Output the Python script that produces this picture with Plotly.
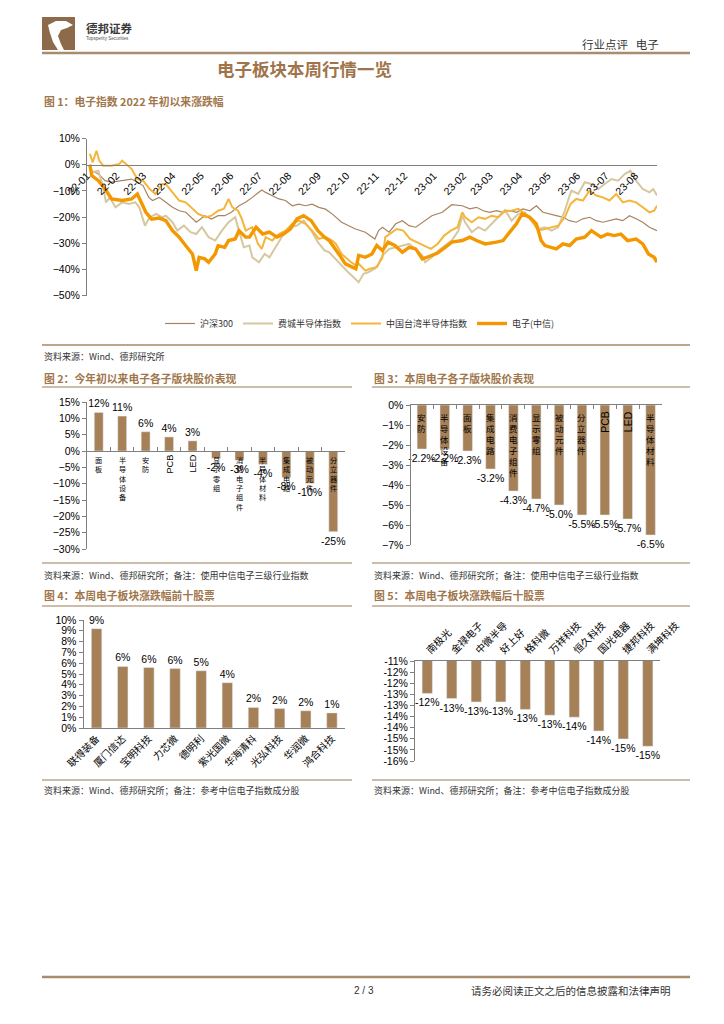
import plotly.graph_objects as go

W, H = 724, 1024
def fx(x): return x / W
def fy(y): return 1 - y / H

CJK = "Noto Sans CJK SC"
LAT = "Arial, Liberation Sans, sans-serif"
BROWN_T = "#a0764c"
BAR = "#a68158"
AX = "#808080"

# ---------------- Figure 1 data (% change since start of 2022) ----------------
series_names = ["沪深300", "费城半导体指数", "中国台湾半导体指数", "电子(中信)"]

hs300_dates = ["2022-01-04","2022-01-06","2022-01-13","2022-01-20","2022-01-27","2022-02-07","2022-02-17","2022-03-01","2022-03-07","2022-03-11","2022-03-18","2022-03-25","2022-04-01","2022-04-08","2022-04-15","2022-04-26","2022-05-05","2022-05-12","2022-05-19","2022-05-26","2022-06-02","2022-06-10","2022-06-17","2022-06-24","2022-07-04","2022-07-08","2022-07-15","2022-07-22","2022-07-29","2022-08-05","2022-08-12","2022-08-19","2022-08-26","2022-09-02","2022-09-09","2022-09-16","2022-09-26","2022-10-10","2022-10-21","2022-10-31","2022-11-04","2022-11-08","2022-11-15","2022-11-22","2022-11-29","2022-12-06","2022-12-13","2022-12-20","2022-12-30","2023-01-10","2023-01-17","2023-01-20","2023-01-31","2023-02-08","2023-02-15","2023-02-22","2023-03-01","2023-03-08","2023-03-15","2023-03-22","2023-03-29","2023-04-05","2023-04-12","2023-04-19","2023-04-26","2023-05-04","2023-05-10","2023-05-17","2023-05-24","2023-05-31","2023-06-07","2023-06-14","2023-06-21","2023-06-28","2023-07-05","2023-07-12","2023-07-19","2023-07-26","2023-08-02","2023-08-09","2023-08-16","2023-08-24"]
hs300_vals = [0,-2.3,-3.6,-6.1,-6.7,-6.1,-5.5,-8.0,-12.5,-13.7,-12.5,-14.4,-16.3,-17.6,-18.2,-22.0,-19.5,-20.8,-19.5,-19.5,-18.2,-15.7,-14.4,-12.5,-9.7,-10.6,-11.8,-13.1,-13.7,-15.7,-15.1,-15.7,-15.1,-16.3,-17.0,-18.8,-22.0,-24.5,-25.8,-28.4,-25.2,-23.9,-25.8,-22.6,-21.4,-23.3,-23.9,-22.0,-19.5,-18.2,-16.3,-15.3,-15.7,-16.9,-16.3,-17.6,-18.2,-17.6,-18.2,-17.6,-18.2,-16.9,-17.6,-15.7,-18.2,-18.8,-19.5,-20.1,-21.4,-22.0,-20.7,-20.1,-21.4,-22.0,-21.4,-20.7,-21.4,-19.5,-20.7,-22.0,-23.9,-25.2]

sox_dates = ["2022-01-04","2022-01-05","2022-01-07","2022-01-13","2022-01-18","2022-01-21","2022-01-25","2022-01-31","2022-02-07","2022-02-14","2022-02-21","2022-02-25","2022-03-03","2022-03-08","2022-03-15","2022-03-21","2022-03-25","2022-04-01","2022-04-06","2022-04-13","2022-04-20","2022-04-26","2022-05-02","2022-05-09","2022-05-16","2022-05-23","2022-05-30","2022-06-06","2022-06-10","2022-06-15","2022-06-21","2022-06-24","2022-07-01","2022-07-07","2022-07-12","2022-07-20","2022-07-27","2022-08-03","2022-08-10","2022-08-17","2022-08-25","2022-09-01","2022-09-08","2022-09-13","2022-09-19","2022-09-26","2022-10-03","2022-10-10","2022-10-14","2022-10-19","2022-10-24","2022-10-31","2022-11-04","2022-11-08","2022-11-15","2022-11-22","2022-11-29","2022-12-06","2022-12-13","2022-12-20","2022-12-23","2022-12-30","2023-01-06","2023-01-13","2023-01-20","2023-01-27","2023-01-31","2023-02-03","2023-02-10","2023-02-17","2023-02-24","2023-03-03","2023-03-10","2023-03-17","2023-03-24","2023-03-31","2023-04-07","2023-04-14","2023-04-21","2023-04-28","2023-05-05","2023-05-12","2023-05-19","2023-05-24","2023-05-26","2023-06-02","2023-06-09","2023-06-16","2023-06-23","2023-06-30","2023-07-07","2023-07-14","2023-07-21","2023-07-27","2023-08-02","2023-08-09","2023-08-16","2023-08-20","2023-08-24"]
sox_vals = [0,-1.7,-2.9,-2.3,-8.7,-14.4,-12.5,-16.3,-14.4,-15.0,-14.4,-16.3,-23.3,-20.1,-18.8,-20.1,-19.5,-22.0,-25.2,-23.3,-25.8,-26.5,-23.9,-27.7,-29.0,-25.2,-22.0,-20.1,-25.2,-31.6,-30.9,-35.4,-37.3,-34.1,-35.4,-30.9,-26.5,-23.9,-23.3,-21.4,-25.2,-29.6,-32.8,-33.5,-36.0,-38.5,-41.1,-43.6,-44.9,-41.7,-41.1,-39.8,-37.9,-34.7,-32.2,-31.6,-30.9,-30.3,-32.2,-34.7,-37.3,-35.4,-32.8,-30.9,-29.0,-25.2,-19.5,-22.0,-25.8,-23.9,-25.2,-22.6,-20.1,-17.4,-21.4,-18.8,-18.2,-21.4,-24.6,-23.9,-25.2,-23.9,-17.6,-11.8,-9.9,-11.2,-6.7,-7.4,-9.3,-7.4,-5.5,-6.1,-3.6,-2.3,-6.1,-9.3,-10.6,-9.3,-11.8]

tw_dates = ["2022-01-04","2022-01-07","2022-01-11","2022-01-14","2022-01-18","2022-01-27","2022-02-04","2022-02-07","2022-02-11","2022-02-17","2022-02-23","2022-03-01","2022-03-08","2022-03-14","2022-03-21","2022-03-25","2022-04-01","2022-04-08","2022-04-15","2022-04-22","2022-04-28","2022-05-06","2022-05-12","2022-05-19","2022-05-25","2022-05-30","2022-06-03","2022-06-09","2022-06-13","2022-06-17","2022-06-24","2022-06-30","2022-07-04","2022-07-08","2022-07-15","2022-07-22","2022-07-29","2022-08-05","2022-08-12","2022-08-19","2022-08-26","2022-09-02","2022-09-09","2022-09-16","2022-09-20","2022-09-26","2022-10-06","2022-10-11","2022-10-14","2022-10-21","2022-10-26","2022-11-02","2022-11-08","2022-11-11","2022-11-16","2022-11-23","2022-11-30","2022-12-07","2022-12-14","2022-12-21","2022-12-29","2023-01-05","2023-01-12","2023-01-19","2023-01-26","2023-01-31","2023-02-03","2023-02-10","2023-02-17","2023-02-24","2023-03-03","2023-03-10","2023-03-17","2023-03-24","2023-03-31","2023-04-07","2023-04-14","2023-04-21","2023-04-28","2023-05-05","2023-05-12","2023-05-19","2023-05-25","2023-05-31","2023-06-07","2023-06-14","2023-06-21","2023-06-28","2023-07-05","2023-07-12","2023-07-19","2023-07-26","2023-08-02","2023-08-09","2023-08-16","2023-08-21","2023-08-24"]
tw_vals = [4.1,0.9,5.3,1.5,-0.4,-0.4,0.3,1.5,0.3,-1.7,-5.5,-6.1,-9.3,-11.2,-7.4,-7.4,-10.6,-13.7,-14.4,-16.9,-18.8,-20.1,-19.5,-17.6,-16.9,-13.1,-16.3,-17.6,-20.7,-25.2,-23.9,-30.3,-32.2,-27.7,-29.0,-26.5,-25.2,-22.6,-21.4,-22.6,-25.2,-28.4,-27.7,-29.0,-30.3,-34.1,-37.3,-38.5,-37.9,-40.5,-39.8,-39.2,-35.4,-27.7,-26.5,-24.6,-25.2,-28.4,-29.6,-30.9,-32.2,-30.3,-27.1,-25.2,-23.9,-18.2,-20.1,-22.0,-20.1,-20.7,-19.5,-20.1,-17.6,-17.6,-16.9,-18.8,-21.4,-25.2,-24.6,-23.9,-23.3,-20.1,-15.0,-13.1,-13.7,-9.9,-11.8,-12.5,-13.7,-11.2,-14.4,-13.7,-14.4,-16.3,-18.2,-17.6,-15.7]

elec_dates = ["2022-01-04","2022-01-06","2022-01-13","2022-01-20","2022-01-27","2022-02-07","2022-02-17","2022-02-23","2022-03-04","2022-03-10","2022-03-18","2022-03-25","2022-04-01","2022-04-08","2022-04-15","2022-04-22","2022-04-26","2022-04-29","2022-05-05","2022-05-09","2022-05-16","2022-05-19","2022-05-26","2022-05-30","2022-06-06","2022-06-10","2022-06-17","2022-06-21","2022-06-28","2022-07-05","2022-07-12","2022-07-20","2022-07-27","2022-08-03","2022-08-10","2022-08-17","2022-08-25","2022-09-01","2022-09-08","2022-09-13","2022-09-23","2022-09-30","2022-10-11","2022-10-14","2022-10-21","2022-10-28","2022-11-02","2022-11-08","2022-11-14","2022-11-21","2022-11-29","2022-12-06","2022-12-13","2022-12-20","2022-12-27","2023-01-05","2023-01-13","2023-01-20","2023-01-31","2023-02-08","2023-02-15","2023-02-24","2023-03-08","2023-03-15","2023-03-22","2023-03-29","2023-04-04","2023-04-12","2023-04-19","2023-04-24","2023-04-28","2023-05-10","2023-05-17","2023-05-24","2023-05-31","2023-06-09","2023-06-16","2023-06-26","2023-07-03","2023-07-10","2023-07-17","2023-07-24","2023-08-02","2023-08-09","2023-08-15","2023-08-21","2023-08-24"]
elec_vals = [0,-4.2,-6.1,-9.3,-13.1,-13.7,-13.1,-11.2,-18.2,-20.8,-20.4,-21.4,-25.2,-27.7,-31.0,-34.1,-40.5,-35.4,-36.0,-37.3,-34.1,-31.0,-31.6,-29.0,-28.4,-25.2,-27.7,-27.7,-23.9,-26.5,-25.8,-27.7,-26.5,-24.6,-20.7,-19.5,-21.4,-25.2,-27.7,-29.0,-34.1,-37.9,-39.8,-34.7,-35.4,-34.1,-30.9,-32.8,-29.6,-30.9,-33.5,-31.6,-32.2,-36.0,-35.1,-33.8,-31.6,-29.6,-29.0,-27.7,-29.0,-30.3,-29.6,-29.0,-25.8,-22.6,-18.8,-20.1,-22.6,-29.0,-30.9,-32.2,-30.3,-30.9,-28.4,-27.7,-25.2,-27.7,-26.5,-27.1,-26.5,-29.0,-28.4,-30.3,-34.1,-35.4,-37.3]

line_colors = ["#a7845f", "#d7c7a0", "#f5b53a", "#f39800"]
line_widths = [1.2, 2.0, 2.0, 3.4]

# ---------------- Figure 2: YTD sub-sector ----------------
ytd_names = ["面板","半导体设备","安防","PCB","LED","显示零组","消费电子组件","半导体材料","集成电路","被动元件","分立器件"]
ytd_vals = [11.8, 10.7, 5.9, 4.3, 3.1, -2.2, -2.8, -4.1, -8.1, -9.9, -24.7]

# ---------------- Figure 3: weekly sub-sector ----------------
wk_names = ["安防","半导体设备","面板","集成电路","消费电子组件","显示零组","被动元件","分立器件","PCB","LED","半导体材料"]
wk_vals = [-2.2, -2.2, -2.3, -3.2, -4.3, -4.7, -5.0, -5.5, -5.5, -5.7, -6.5]

# ---------------- Figure 4: top 10 ----------------
top_names = ["联得装备","厦门信达","宝明科技","力芯微","德明利","紫光国微","华海清科","光弘科技","华润微","鸿合科技"]
top_vals = [9.2, 5.7, 5.6, 5.5, 5.3, 4.2, 1.9, 1.8, 1.6, 1.4]

# ---------------- Figure 5: bottom 10 ----------------
bot_names = ["南极光","金禄电子","中微半导","好上好","格科微","万祥科技","恒久科技","国光电器","捷邦科技","满坤科技"]
bot_vals = [-12.46, -12.69, -12.84, -12.84, -13.18, -13.44, -13.53, -14.15, -14.51, -14.84]
bot_tickvals = [-11, -11.5, -12, -12.5, -13, -13.5, -14, -14.5, -15, -15.5]
bot_ticktext = ["-11%","-12%","-12%","-13%","-13%","-14%","-14%","-15%","-15%","-16%"]

fig = go.Figure()

for nm, d, v, c, w in zip(series_names, [hs300_dates, sox_dates, tw_dates, elec_dates],
                          [hs300_vals, sox_vals, tw_vals, elec_vals], line_colors, line_widths):
    fig.add_trace(go.Scatter(x=d, y=v, name=nm, mode="lines", line=dict(color=c, width=w),
                             xaxis="x", yaxis="y"))

bar_text_font = dict(family=LAT, size=10.5, color="#000")
fig.add_trace(go.Bar(x=ytd_names, y=ytd_vals, xaxis="x2", yaxis="y2", marker_color=BAR, width=0.38,
                     texttemplate="%{y:.0f}%", textposition="outside", cliponaxis=False,
                     constraintext="none", textfont=bar_text_font, showlegend=False))
fig.add_trace(go.Bar(x=wk_names, y=wk_vals, xaxis="x3", yaxis="y3", marker_color=BAR, width=0.42,
                     texttemplate="%{y:.1f}%", textposition="outside", cliponaxis=False,
                     constraintext="none", textfont=bar_text_font, showlegend=False))
fig.add_trace(go.Bar(x=top_names, y=top_vals, xaxis="x4", yaxis="y4", marker_color=BAR, width=0.4,
                     texttemplate="%{y:.0f}%", textposition="outside", cliponaxis=False,
                     constraintext="none", textfont=bar_text_font, showlegend=False))
fig.add_trace(go.Bar(x=bot_names, y=bot_vals, xaxis="x5", yaxis="y5", marker_color=BAR, width=0.42,
                     texttemplate="%{y:.0f}%", textposition="outside", cliponaxis=False,
                     constraintext="none", textfont=bar_text_font, showlegend=False))

common = dict(showgrid=False, zeroline=False, showline=True, linecolor=AX, linewidth=1,
              tickfont=dict(family=LAT, size=10.5, color="#000"))

# domains
y1 = [fy(295.5), fy(138.5)]
pos1 = y1[0] + (50 / 60) * (y1[1] - y1[0])
y2 = [fy(549), fy(402)]
pos2 = y2[0] + (30 / 45) * (y2[1] - y2[0])

fig.update_layout(
    width=W, height=H, margin=dict(l=0, r=0, t=0, b=0, pad=0, autoexpand=False),
    paper_bgcolor="white", plot_bgcolor="rgba(0,0,0,0)",
    font=dict(family=CJK, color="#000"),
    xaxis=dict(domain=[fx(87), fx(657)], anchor="free", position=pos1, type="date",
               range=["2022-01-01", "2023-08-24"], dtick="M1", tick0="2022-01-01",
               tickformat="%y-%m", tickangle=-45, ticks="", **common),
    yaxis=dict(domain=y1, anchor="x", range=[-50, 10], dtick=10, ticksuffix="%",
               ticks="outside", ticklen=4, tickcolor=AX, **common),
    xaxis2=dict(domain=[fx(87), fx(345)], anchor="free", position=pos2, type="category",
                showticklabels=False, ticks="inside", tickson="boundaries", ticklen=4,
                tickcolor=AX, **common),
    yaxis2=dict(domain=y2, anchor="x2", range=[-30, 15], dtick=5, ticksuffix="%",
                ticks="outside", ticklen=4, tickcolor=AX, **common),
    xaxis3=dict(domain=[fx(410.5), fx(662)], anchor="y3", side="top", type="category",
                showticklabels=False, ticks="inside", tickson="boundaries", ticklen=4,
                tickcolor=AX, **common),
    yaxis3=dict(domain=[fy(545), fy(405)], anchor="x3", range=[-7, 0], dtick=1,
                ticksuffix="%", ticks="outside", ticklen=4, tickcolor=AX, **common),
    xaxis4=dict(domain=[fx(83.5), fx(345)], anchor="y4", type="category", tickangle=-45,
                ticks="", showgrid=False, zeroline=False, showline=True, linecolor=AX,
                tickfont=dict(family=CJK, size=10, color="#000")),
    yaxis4=dict(domain=[fy(728), fy(620)], anchor="x4", range=[0, 10], dtick=1,
                ticksuffix="%", ticks="outside", ticklen=4, tickcolor=AX, **common),
    xaxis5=dict(domain=[fx(415), fx(660)], anchor="y5", side="top", type="category",
                tickangle=-45, ticks="", showgrid=False, zeroline=False, showline=True,
                linecolor=AX, tickfont=dict(family=CJK, size=10, color="#000")),
    yaxis5=dict(domain=[fy(761), fy(661)], anchor="x5", range=[-15.5, -11],
                tickvals=bot_tickvals, ticktext=bot_ticktext, ticks="outside", ticklen=4,
                tickcolor=AX, **common),
    legend=dict(orientation="h", x=fx(360), xanchor="center", y=fy(309), yanchor="top",
                font=dict(family=CJK, size=9, color="#333"), bgcolor="rgba(0,0,0,0)",
                itemwidth=30, tracegroupgap=0),
    showlegend=True,
)

ann = []
def txt(x, y, s, size, color="#000", anchor="left", bold=False, family=CJK):
    ann.append(dict(x=fx(x), y=fy(y), xref="paper", yref="paper", showarrow=False,
                    text=("<b>%s</b>" % s) if bold else s, xanchor=anchor, yanchor="middle",
                    font=dict(family=family, size=size, color=color)))

# header
txt(84, 28, "德邦证券", 11.5, "#3a3a3a", bold=True)
txt(84, 38.5, "Topsperity Securities", 4.6, "#555", family=LAT)
txt(661, 44, "行业点评   电子", 11.5, "#333", anchor="right")
txt(304, 68, "电子板块本周行情一览", 17.5, "#a0744a", anchor="center", bold=True)
txt(42, 101, "图 1：电子指数 2022 年初以来涨跌幅", 10.8, BROWN_T, bold=True)
txt(42, 356, "资料来源：Wind、德邦研究所", 9, "#333")
txt(42, 378, "图 2：今年初以来电子各子版块股价表现", 10.8, BROWN_T, bold=True)
txt(372, 378, "图 3：本周电子各子版块股价表现", 10.8, BROWN_T, bold=True)
txt(42, 575, "资料来源：Wind、德邦研究所；备注：使用中信电子三级行业指数", 9, "#333")
txt(372, 575, "资料来源：Wind、德邦研究所；备注：使用中信电子三级行业指数", 9, "#333")
txt(42, 595, "图 4：本周电子板块涨跌幅前十股票", 10.8, BROWN_T, bold=True)
txt(372, 595, "图 5：本周电子板块涨跌幅后十股票", 10.8, BROWN_T, bold=True)
txt(42, 790, "资料来源：Wind、德邦研究所；备注：参考中信电子指数成分股", 9, "#333")
txt(372, 790, "资料来源：Wind、德邦研究所；备注：参考中信电子指数成分股", 9, "#333")
txt(364, 990, "2 / 3", 10, "#333", anchor="center", family=LAT)
txt(673, 990, "请务必阅读正文之后的信息披露和法律声明", 10.5, "#333", anchor="right")

# vertical category labels for figs 2 and 3 (one stacked text per category)
def vlabels(names, xr, yr, size, offset):
    for nm in names:
        if nm.isascii():
            ann.append(dict(x=nm, y=0, xref=xr, yref=yr, text=nm, textangle=-90, showarrow=False,
                            yanchor="top", yshift=-offset, xanchor="center", borderpad=0,
                            font=dict(family=LAT, size=size + 2, color="#000")))
        else:
            ann.append(dict(x=nm, y=0, xref=xr, yref=yr, text="<br>".join(nm), showarrow=False,
                            yanchor="top", yshift=-offset, xanchor="center", align="center",
                            borderpad=0, font=dict(family=CJK, size=size, color="#000")))

vlabels(ytd_names, "x2", "y2", 7.2, 3)
vlabels(wk_names, "x3", "y3", 8.5, 5)

fig.update_layout(annotations=ann)

# shapes
shapes = []
def hline(x0, x1, y, color, w):
    shapes.append(dict(type="line", xref="paper", yref="paper", x0=fx(x0), x1=fx(x1),
                       y0=fy(y), y1=fy(y), line=dict(color=color, width=w)))

hline(42, 690, 53, "#a88c6e", 2.5)
hline(42, 690, 345, "#bda68c", 2)
for yv in (387, 563, 606, 780):
    hline(42, 352, yv, "#bda68c", 1.6)
    hline(372, 690, yv, "#bda68c", 1.6)
hline(42, 690, 977, "#a88c6e", 2.5)

# logo
shapes.append(dict(type="rect", xref="paper", yref="paper", x0=fx(42), x1=fx(75),
                   y0=fy(50), y1=fy(17), fillcolor="#8d6b4a", line=dict(width=0)))
pts = [(48, 25), (56, 21), (66, 21), (73, 25), (67, 28), (61, 30), (58, 36), (61, 44), (64, 50),
       (58, 50), (53, 42), (50, 33)]
path = "M " + " L ".join("%.5f %.5f" % (fx(a), fy(b)) for a, b in pts) + " Z"
shapes.append(dict(type="path", xref="paper", yref="paper", path=path, fillcolor="white",
                   line=dict(width=0)))
fig.update_layout(shapes=shapes)

fig.write_html("out.html", config={"displayModeBar": False},
               post_script="document.body.style.margin='0px';")
